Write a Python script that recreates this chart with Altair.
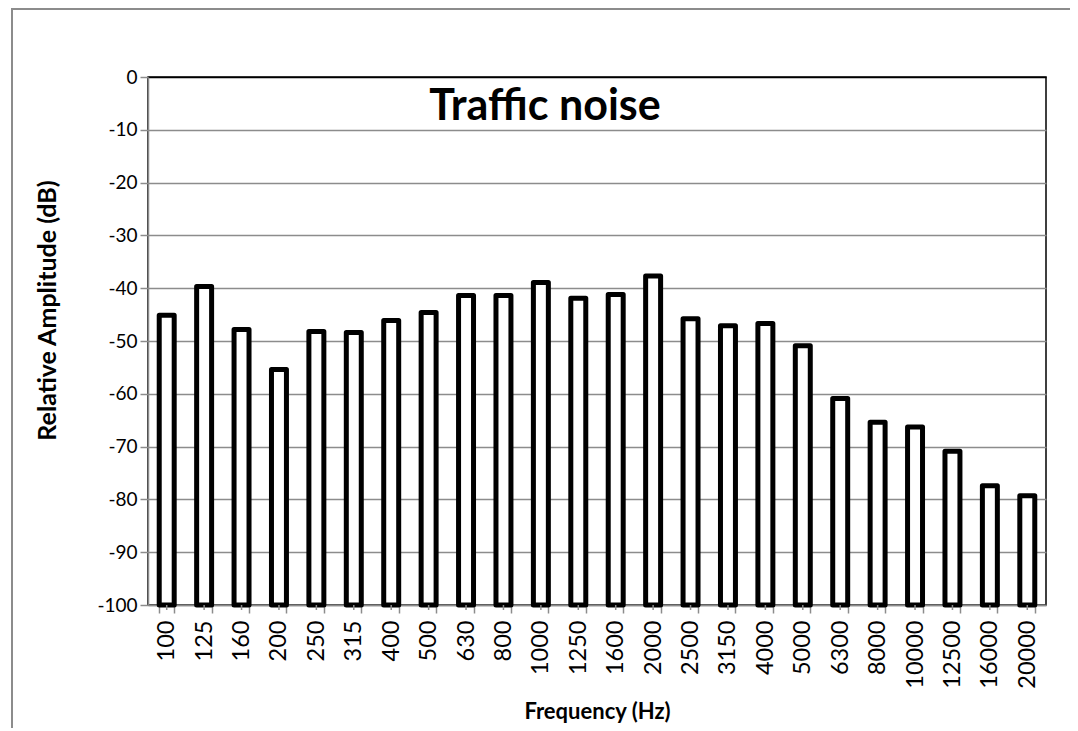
import altair as alt
import pandas as pd

freqs = ["100", "125", "160", "200", "250", "315", "400", "500", "630", "800",
         "1000", "1250", "1600", "2000", "2500", "3150", "4000", "5000", "6300",
         "8000", "10000", "12500", "16000", "20000"]
amps = [-45.1, -39.7, -47.8, -55.4, -48.2, -48.4, -46.1, -44.6, -41.4, -41.4,
        -38.9, -41.9, -41.2, -37.7, -45.8, -47.1, -46.7, -50.9, -60.9,
        -65.4, -66.3, -70.9, -77.4, -79.3]
y_ticks = list(range(-100, 1, 10))
title_text = "Traffic noise"

FONT = "Lato"
W, H = 898, 528
TOTAL_H = 720

df = pd.DataFrame({"freq": freqs, "amp": amps})

xscale = alt.Scale(paddingInner=0.6, paddingOuter=0.3)
yscale = alt.Scale(domain=[-100, 0], nice=False, zero=False)

frame = alt.Chart(pd.DataFrame({"k": [0]})).mark_rect(
    fill=None, stroke="#8c8c8c", strokeWidth=2
).encode(
    x=alt.value(-136), x2=alt.value(1100),
    y=alt.value(-68), y2=alt.value(900)
)

bars = alt.Chart(df).mark_bar(
    fill="white", stroke="black", strokeWidth=5, strokeJoin="round"
).encode(
    x=alt.X("freq:N", sort=None, scale=xscale,
            axis=alt.Axis(title="Frequency (Hz)", labelAngle=-90, labelAlign="right",
                          labelBaseline="middle", labelFontSize=23.5, labelFont=FONT,
                          labelColor="black", labelPadding=7,
                          tickBand="extent", tickSize=8, tickColor="#8c8c8c",
                          tickWidth=1.5, domainColor="#8c8c8c", domainWidth=1.5,
                          titleFont=FONT, titleFontSize=22, titleFontWeight="bold",
                          titleColor="black", titleY=106, titleBaseline="middle",
                          grid=False)),
    y=alt.Y("amp:Q", scale=yscale,
            axis=alt.Axis(title="Relative Amplitude (dB)", values=y_ticks,
                          labelExpr="'' + datum.value",
                          labelFontSize=19, labelFont=FONT, labelColor="black",
                          labelPadding=3, tickSize=8, tickColor="#8c8c8c",
                          tickWidth=1.5, domainColor="#8c8c8c", domainWidth=1.5,
                          gridColor=alt.condition("datum.value == 0",
                                                  alt.value("black"),
                                                  alt.value("#8c8c8c")),
                          gridWidth=1.5,
                          titleFont=FONT, titleFontSize=25, titleFontWeight="bold",
                          titleColor="black", titleX=-101, titleY=233,
                          titleBaseline="middle", titleAngle=-90)),
    y2=alt.datum(-100),
)

minor = alt.Chart(df).mark_rule(color="#8c8c8c", strokeWidth=1.5).encode(
    x=alt.X("freq:N", sort=None, scale=xscale),
    y=alt.value(H),
    y2=alt.value(H + 5),
)

title = alt.Chart(pd.DataFrame({"t": [title_text]})).mark_text(
    font=FONT, fontSize=43, fontWeight="bold", color="black",
    align="center", baseline="alphabetic"
).encode(
    text="t:N",
    x=alt.value(545 - 148),
    y=alt.value(120 - 77),
)

chart = alt.layer(frame, bars, minor, title).properties(
    width=W, height=H,
    autosize=alt.AutoSizeParams(type="none"),
    padding={"left": 140, "top": 69, "right": 1062 - 140 - W, "bottom": TOTAL_H - 69 - H},
    background="white",
).configure_view(stroke="black", strokeWidth=1.5)

chart.save("out.html", embed_options={"renderer": "svg", "actions": False})
